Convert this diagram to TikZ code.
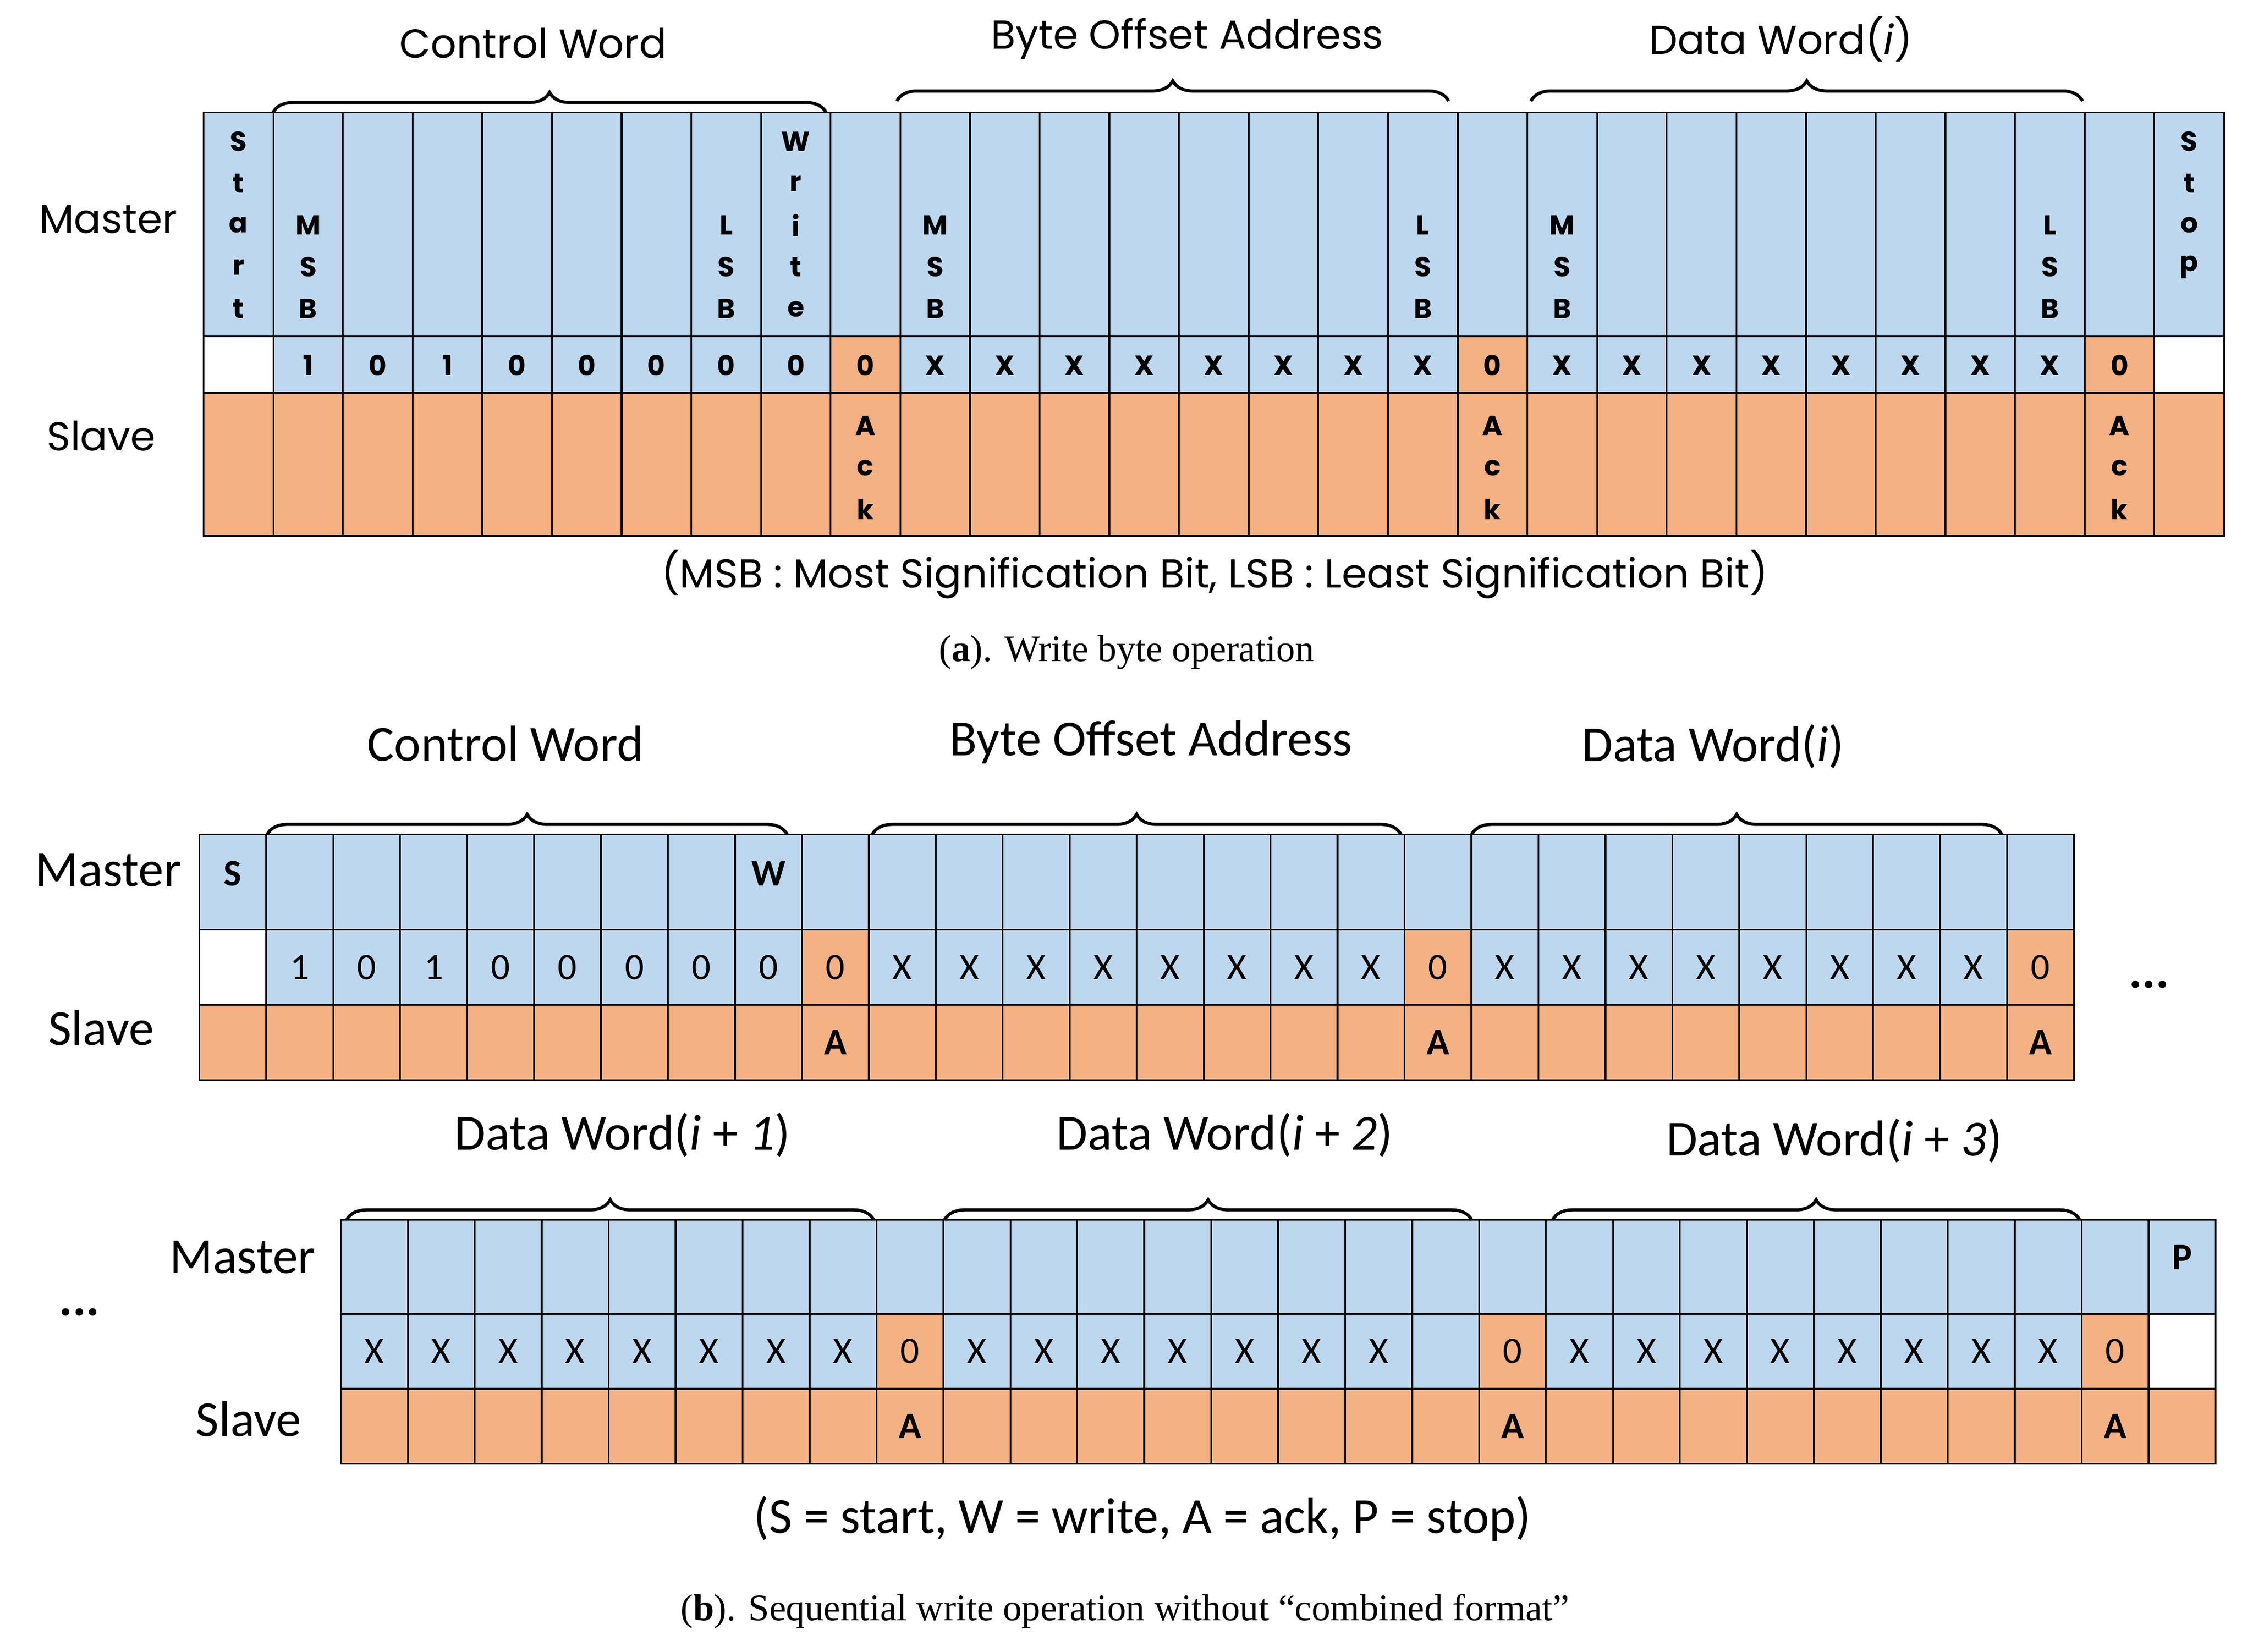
\documentclass[tikz,border=0pt]{standalone}
\usepackage{fontspec}
\setmainfont{Liberation Serif}
\newfontfamily\gothic{Poppins}
\newfontfamily\calfnt{Carlito}
\usetikzlibrary{decorations.pathreplacing}
\definecolor{mblue}{HTML}{BDD7EE}
\definecolor{sorng}{HTML}{F4B183}
\begin{document}
\begin{tikzpicture}[x=0.5pt,y=-0.5pt,
  cell/.style={draw=black,line width=0.6pt},
  br/.style={decorate,decoration={brace,amplitude=7pt,raise=0pt},line width=1.1pt},
  ta/.style={font=\gothic\fontsize{9.5}{10}\selectfont\bfseries},
  tav/.style={font=\gothic\fontsize{9.5}{10}\selectfont\bfseries,inner sep=0pt},
  la/.style={font=\gothic\fontsize{14}{16}\selectfont},
  tb/.style={font=\calfnt\fontsize{13}{14}\selectfont},
  tbb/.style={font=\calfnt\fontsize{13}{14}\selectfont\bfseries},
  lb/.style={font=\calfnt\fontsize{17.5}{20}\selectfont},
  captxt/.style={font=\fontsize{13}{15}\selectfont}]
\useasboundingbox (0,0) rectangle (1560,1144);
% ================= (a)
\def\W{48.24}
\foreach \i in {0,...,28}{
  \pgfmathsetmacro{\xa}{141+\W*\i}\pgfmathsetmacro{\xb}{141+\W*(\i+1)}
  \pgfmathsetmacro{\xc}{141+\W*(\i+0.5)}
  \def\mf{mblue}
  \ifnum\i=0 \def\mf{white}\fi \ifnum\i=28 \def\mf{white}\fi
  \ifnum\i=9 \def\mf{sorng}\fi \ifnum\i=18 \def\mf{sorng}\fi \ifnum\i=27 \def\mf{sorng}\fi
  \filldraw[cell,fill=mblue] (\xa,78) rectangle (\xb,233);
  \filldraw[cell,fill=\mf] (\xa,233) rectangle (\xb,272);
  \filldraw[cell,fill=sorng] (\xa,272) rectangle (\xb,371);
  \coordinate (ac\i) at (\xc,253);
}
\foreach \i/\t in {1/1,2/0,3/1,4/0,5/0,6/0,7/0,8/0,9/0,18/0,27/0}{\node[ta] (av\i) at (ac\i) {\t};}
\foreach \i in {10,...,17,19,20,...,26}{\node[ta] (av\i) at (ac\i) {X};}
\newcommand{\vst}[3]{\foreach \l [count=\k from 0, evaluate=\k as \yy using #2+29*\k] in {#3}{\node[tav] (vs#1x\k) at (ac#1 |- 0,\yy) {\l};}}
\vst{0}{98}{S,t,a,r,t}
\vst{1}{156}{M,S,B}\vst{7}{156}{L,S,B}\vst{8}{98}{W,r,i,t,e}
\vst{10}{156}{M,S,B}\vst{17}{156}{L,S,B}
\vst{19}{156}{M,S,B}\vst{26}{156}{L,S,B}
\vst{28}{98}{S,t,o,p}
\vst{9}{295}{A,c,k}\vst{18}{295}{A,c,k}\vst{27}{295}{A,c,k}
\node[la] (am) at (75,152) {Master};
\node[la] (as) at (70,302) {Slave};
\coordinate (b1a) at (189,78);\coordinate (b1b) at (572,78);
\coordinate (b2a) at (621,70);\coordinate (b2b) at (1003,70);
\coordinate (b3a) at (1060,70);\coordinate (b3b) at (1442,70);
\draw[br] (b1a) -- (b1b);\draw[br] (b2a) -- (b2b);\draw[br] (b3a) -- (b3b);
\node[la] (l1) at (369,30) {Control Word};
\node[la] (l2) at (822,27) {Byte Offset Address};
\node[la] (l3) at (1233,27) {Data Word(\textit{i})};
\node[la] (ca) at (841,398) {(MSB : Most Signification Bit, LSB : Least Signification Bit)};
\node[captxt] (capa) at (780,452) {(\textbf{a}). Write byte operation};
% ================= (b) row 1
\def\V{46.36}
\foreach \j in {0,...,27}{
  \pgfmathsetmacro{\xa}{138+\V*\j}\pgfmathsetmacro{\xb}{138+\V*(\j+1)}
  \pgfmathsetmacro{\xc}{138+\V*(\j+0.5)}
  \def\mf{mblue}
  \ifnum\j=0 \def\mf{white}\fi
  \ifnum\j=9 \def\mf{sorng}\fi \ifnum\j=18 \def\mf{sorng}\fi \ifnum\j=27 \def\mf{sorng}\fi
  \filldraw[cell,fill=mblue] (\xa,578) rectangle (\xb,644);
  \filldraw[cell,fill=\mf] (\xa,644) rectangle (\xb,696);
  \filldraw[cell,fill=sorng] (\xa,696) rectangle (\xb,748);
  \coordinate (bm\j) at (\xc,605);\coordinate (bc\j) at (\xc,670);\coordinate (bs\j) at (\xc,722);
}
\foreach \j/\t in {1/1,2/0,3/1,4/0,5/0,6/0,7/0,8/0,9/0,18/0,27/0}{\node[tb] (bv\j) at (bc\j) {\t};}
\foreach \j in {10,...,17,19,20,...,26}{\node[tb] (bv\j) at (bc\j) {X};}
\node[tbb] (bS) at (bm0) {S};\node[tbb] (bW) at (bm8) {W};
\foreach \j in {9,18,27}{\node[tbb] (bA\j) at (bs\j) {A};}
\node[lb] (bmm) at (75,603) {Master};
\node[lb] (bss) at (70,712) {Slave};
\node[lb] (bd1) at (1488,682) {\textbf{...}};
\coordinate (c1a) at (185,578);\coordinate (c1b) at (545,578);
\coordinate (c2a) at (604,578);\coordinate (c2b) at (970,578);
\coordinate (c3a) at (1019,578);\coordinate (c3b) at (1386,578);
\draw[br] (c1a) -- (c1b);\draw[br] (c2a) -- (c2b);\draw[br] (c3a) -- (c3b);
\node[lb] (m1) at (350,515) {Control Word};
\node[lb] (m2) at (797,514) {Byte Offset Address};
\node[lb] (m3) at (1186,517) {Data Word(\textit{i})};
% ================= (b) row 2
\foreach \j in {0,...,27}{
  \pgfmathsetmacro{\xa}{236+\V*\j}\pgfmathsetmacro{\xb}{236+\V*(\j+1)}
  \pgfmathsetmacro{\xc}{236+\V*(\j+0.5)}
  \def\mf{mblue}
  \ifnum\j=27 \def\mf{white}\fi
  \ifnum\j=8 \def\mf{sorng}\fi \ifnum\j=17 \def\mf{sorng}\fi \ifnum\j=26 \def\mf{sorng}\fi
  \filldraw[cell,fill=mblue] (\xa,845) rectangle (\xb,910);
  \filldraw[cell,fill=\mf] (\xa,910) rectangle (\xb,962);
  \filldraw[cell,fill=sorng] (\xa,962) rectangle (\xb,1014);
  \coordinate (dm\j) at (\xc,871);\coordinate (dc\j) at (\xc,936);\coordinate (ds\j) at (\xc,988);
}
\foreach \j in {0,...,7,9,10,...,15,18,19,...,25}{\node[tb] (dv\j) at (dc\j) {X};}
\foreach \j in {8,17,26}{\node[tb] (dz\j) at (dc\j) {0};\node[tbb] (dA\j) at (ds\j) {A};}
\node[tbb] (dP) at (dm27) {P};
\node[lb] (dmm) at (168,871) {Master};
\node[lb] (dss) at (172,983) {Slave};
\node[lb] (bd2) at (55,909) {\textbf{...}};
\coordinate (e1a) at (240,845);\coordinate (e1b) at (605,845);
\coordinate (e2a) at (654,845);\coordinate (e2b) at (1019,845);
\coordinate (e3a) at (1075,845);\coordinate (e3b) at (1440,845);
\draw[br] (e1a) -- (e1b);\draw[br] (e2a) -- (e2b);\draw[br] (e3a) -- (e3b);
\node[lb] (n1) at (431,786) {Data Word(\textit{i} + \textit{1})};
\node[lb] (n2) at (848,786) {Data Word(\textit{i} + \textit{2})};
\node[lb] (n3) at (1270,790) {Data Word(\textit{i} + \textit{3})};
\node[lb] (cb) at (791,1052) {(S = start, W = write, A = ack, P = stop)};
\node[captxt] (capb) at (779,1116) {(\textbf{b}). Sequential write operation without “combined format”};
\end{tikzpicture}
\end{document}
